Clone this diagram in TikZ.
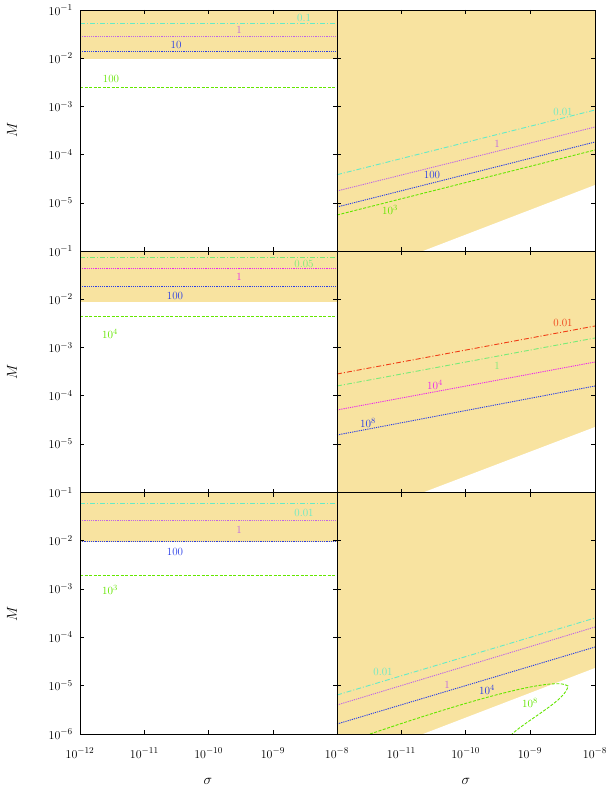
\documentclass[tikz,border=0pt]{standalone}
\usepackage{tikz}
\definecolor{band}{RGB}{248,227,160}
\definecolor{aqua}{RGB}{100,235,200}
\definecolor{lila}{RGB}{190,100,230}
\definecolor{mag}{RGB}{235,40,235}
\definecolor{blu}{RGB}{40,60,230}
\definecolor{grn}{RGB}{100,230,0}
\definecolor{lgrn}{RGB}{120,235,120}
\definecolor{rd}{RGB}{240,60,20}

\begin{document}
\begin{tikzpicture}[x=1pt,y=-1pt,
    frame/.style={draw=black,line width=0.6pt},
    dashdot/.style={line width=0.9pt,dash pattern=on 5pt off 2pt on 1pt off 2pt},
    dots/.style={line width=0.9pt,dash pattern=on 1.2pt off 1pt},
    dashline/.style={line width=0.9pt,dash pattern=on 3pt off 1.5pt},
    lbl/.style={inner sep=0pt,font=\fontsize{11}{12}\selectfont},
    tick/.style={inner sep=1pt,font=\fontsize{12.5}{13}\selectfont}]
    \useasboundingbox (0,0) rectangle (608,789);

    % bands
    \fill[band] (80,10) rectangle (337,59.5);
    \fill[band] (80,251) rectangle (337,302);
    \fill[band] (80,492.5) rectangle (337,541.5);
    \fill[band] (337,10) rectangle (595,734);
    \fill[white] (423,251) -- (595,185) -- (595,251) -- cycle;
    \fill[white] (423,492.5) -- (595,427) -- (595,492.5) -- cycle;
    \fill[white] (423,734) -- (595,668) -- (595,734) -- cycle;

    % top row
    \draw[aqua,dashdot] (80,23.5) -- (337,23.5);
    \draw[lila,dots] (80,36.5) -- (337,36.5);
    \draw[blu,dots] (80,51) -- (337,51);
    \draw[grn,dashline] (80,87.5) -- (337,87.5);
    \node[lbl,aqua] (tl1) at (304,17.5) {0.1};
    \node[lbl,lila] (tl2) at (239,30) {1};
    \node[lbl,blu] (tl3) at (176,45) {10};
    \node[lbl,grn] (tl4) at (111,79) {100};

    \draw[aqua,dashdot] (337,174.7) -- (595,110);
    \draw[lila,dots] (337,191) -- (595,127);
    \draw[blu,dots] (337,207) -- (595,142);
    \draw[grn,dashline] (337,215) -- (595,150);
    \node[lbl,aqua] (tr1) at (563,112) {0.01};
    \node[lbl,lila] (tr2) at (497,144) {1};
    \node[lbl,blu] (tr3) at (432,175) {100};
    \node[lbl,grn] (tr4) at (390,210) {$10^3$};

    % middle row
    \draw[lgrn,dashdot] (80,257) -- (337,257);
    \draw[mag,dots] (80,268) -- (337,268);
    \draw[blu,dots] (80,286) -- (337,286);
    \draw[grn,dashline] (80,316.7) -- (337,316.7);
    \node[lbl,lgrn] (ml1) at (304,264) {0.05};
    \node[lbl,mag] (ml2) at (239,277) {1};
    \node[lbl,blu] (ml3) at (175,296) {100};
    \node[lbl,grn] (ml4) at (110,334) {$10^4$};

    \draw[rd,dashdot] (337,374) -- (595,326);
    \draw[lgrn,dashdot] (337,386) -- (595,338);
    \draw[mag,dots] (337,410) -- (595,362);
    \draw[blu,dots] (337,435) -- (595,386);
    \node[lbl,rd] (mr1) at (563,323) {0.01};
    \node[lbl,lgrn] (mr2) at (497,366) {1};
    \node[lbl,mag] (mr3) at (435,385) {$10^4$};
    \node[lbl,blu] (mr4) at (368,423) {$10^8$};

    % bottom row
    \draw[aqua,dashdot] (80,503) -- (337,503);
    \draw[lila,dots] (80,520) -- (337,520);
    \draw[blu,dots] (80,541) -- (337,541);
    \draw[grn,dashline] (80,575.7) -- (337,575.7);
    \node[lbl,aqua] (bl1) at (304,513) {0.01};
    \node[lbl,lila] (bl2) at (239,530) {1};
    \node[lbl,blu] (bl3) at (175,552) {100};
    \node[lbl,grn] (bl4) at (110,590) {$10^3$};

    \draw[aqua,dashdot] (337,695) -- (595,618);
    \draw[lila,dots] (337,705) -- (595,627);
    \draw[blu,dots] (337,724) -- (595,647);
    \draw[grn,dashline] (370,734) .. controls (470,700) and (555,676) .. (568,686)
      .. controls (566,700) and (530,718) .. (512,734);
    \node[lbl,aqua] (br1) at (383,672) {0.01};
    \node[lbl,lila] (br2) at (447,685) {1};
    \node[lbl,blu] (br3) at (487,690) {$10^4$};
    \node[lbl,grn] (br4) at (530,703) {$10^8$};

    % frames and ticks
    \foreach \xa/\xb in {80/337,337/595}
      \foreach \ya/\yb in {10/251,251/492.5,492.5/734} {
        \draw[frame] (\xa,\ya) rectangle (\xb,\yb);
        \foreach \k in {1,2,3} {
          \draw[frame] (\xa+\k*64.3,\ya) -- ++(0,4);
          \draw[frame] (\xa+\k*64.3,\yb) -- ++(0,-4);
        }
        \foreach \k in {1,...,4} {
          \draw[frame] (\xa,\ya+\k*48.2) -- ++(4,0);
          \draw[frame] (\xb,\ya+\k*48.2) -- ++(-4,0);
        }
      }

    % tick labels
    \foreach \ya/\n in {10/r1,251/r2,492.5/r3}
      \foreach \k in {1,...,5}
        \node[tick,anchor=east] (\n-\k) at (74,\ya+\k*48.2-48.2) {$10^{-\k}$};
    \node[tick,anchor=east] (r3-6) at (74,734) {$10^{-6}$};
    \foreach \x/\e [count=\i] in {80/12,144.3/11,208.6/10,272.9/9,337/8,401.3/11,465.6/10,529.9/9,595/8}
      \node[tick] (xl\i) at (\x,753) {$10^{-\e}$};

    % axis titles
    \foreach \y [count=\i] in {130,372,614}
      \node[rotate=90,font=\fontsize{14}{14}\selectfont] (ylab\i) at (12,\y) {$M$};
    \node[font=\fontsize{14}{14}\selectfont] (xlab1) at (208,781) {$\sigma$};
    \node[font=\fontsize{14}{14}\selectfont] (xlab2) at (466,781) {$\sigma$};
\end{tikzpicture}
\end{document}
